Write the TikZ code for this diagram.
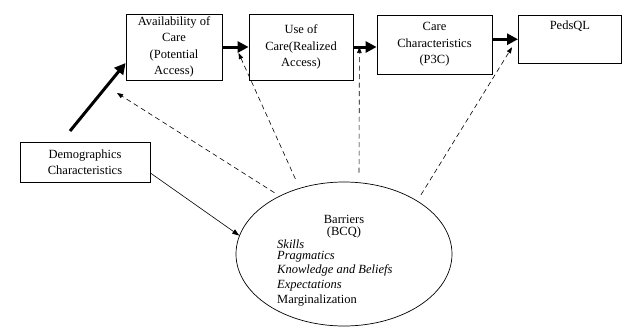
\documentclass[tikz,border=0pt]{standalone}
\usepackage{fontspec}
\setmainfont{Liberation Serif}
\usetikzlibrary{positioning, arrows.meta, shapes.geometric}

\tikzset{
  txt/.style={font=\fontsize{12.5}{16.5}\selectfont},
  box/.style={txt, draw=black, line width=0.8pt, align=center, inner sep=2pt},
  heavy/.style={line width=3pt, -{Triangle[length=11pt,width=11pt]}},
  dashlink/.style={line width=0.6pt, dash pattern=on 5pt off 3.5pt, -{Triangle[length=6pt,width=4.5pt]}},
  thinlink/.style={line width=0.6pt, -{Triangle[length=7pt,width=5pt]}}
}

\begin{document}
\begin{tikzpicture}[x=1pt, y=-1pt]
            \useasboundingbox (0,0) rectangle (622,327);

            \node[box, minimum width=96pt, minimum height=66pt] (avail) at (174, 47) {Availability of\\Care\\(Potential\\Access)};
            \node[box, minimum width=104pt, minimum height=66pt] (use) at (301, 47) {Use of\\Care(Realized\\Access)};
            \node[box, minimum width=115pt, minimum height=59pt] (care) at (434.5, 44.5) {Care\\Characteristics\\(P3C)};
            \node[box, anchor=north west, minimum width=103pt, inner ysep=5pt, text depth=29pt] (peds) at (518, 15) {PedsQL};
            \node[box, minimum width=130pt, minimum height=40pt] (demo) at (85, 162) {Demographics\\Characteristics};
            \node[ellipse, draw=black, line width=0.7pt, minimum width=216pt, minimum height=144pt] (bcq) at (344, 254) {};

            % text inside the ellipse
            \node[txt, anchor=base] (bar) at (344, 223) {Barriers};
            \node[txt, anchor=base] (bcqlbl) at (344, 235) {(BCQ)};
            \node[txt, anchor=base west, inner sep=0pt] (skills) at (277, 248) {\itshape Skills};
            \node[txt, anchor=base west, inner sep=0pt] (prag) at (277, 259.5) {\itshape Pragmatics};
            \node[txt, anchor=base west, inner sep=0pt] (know) at (277, 273.5) {\itshape Knowledge and Beliefs};
            \node[txt, anchor=base west, inner sep=0pt] (expect) at (277, 288) {\itshape Expectations};
            \node[txt, anchor=base west, inner sep=0pt] (margin) at (277, 303) {Marginalization};

            \coordinate (demotop) at (70, 131);
            \coordinate (availlow) at (117, 93);

            \draw[heavy] (demotop) -- ([yshift=-16pt]avail.west);
            \draw[heavy] (avail) -- (use);
            \draw[heavy] (use.east) -- (use.east -| care.west);
            \draw[heavy] (care.east |- peds) -- (peds.west);

            \draw[thinlink] ([yshift=-11pt]demo.east) -- (bcq.170);
            \draw[dashlink, shorten <=6pt] (bcq.138) -- (availlow);
            \draw[dashlink, shorten <=10pt] (bcq.124) -- ([xshift=-10pt,yshift=-6pt]use.west);
            \draw[dashlink, shorten <=9pt] ([xshift=15pt]bcq.north) -- ([xshift=6pt]use.east);
            \draw[dashlink, shorten <=7pt] (bcq.36) -- ([xshift=-6pt,yshift=-8pt]peds.west);
        \end{tikzpicture}
\end{document}
